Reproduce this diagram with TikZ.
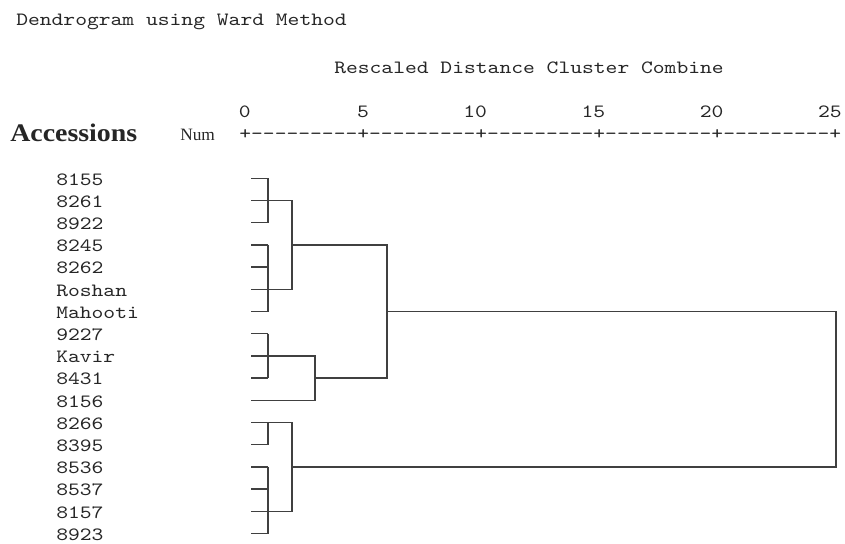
\documentclass[tikz,border=0pt]{standalone}
\usepackage{fontspec}
\setmainfont{Liberation Serif}
\setmonofont{lmmono10-regular.otf}[FakeStretch=1.2]

% y position (px) of the k-th accession row
\pgfmathdeclarefunction{row}{1}{\pgfmathparse{178.3+22.2*#1}}

\begin{document}
\begin{tikzpicture}[x=0.75pt, y=-0.75pt,
    mono/.style = {font=\ttfamily\fontsize{14.05}{17}\selectfont, inner sep=0pt, text=black!85},
    branch/.style = {draw=black!75, line width=1.1pt}]
  \useasboundingbox (0,0) rectangle (845,543);

  % headings
  \node[mono, anchor=base west] (title) at (16,25.5) {Dendrogram using Ward Method};
  \node[mono, anchor=base west] (scale) at (334,73.3) {Rescaled Distance Cluster Combine};
  \node[anchor=base west, inner sep=0pt, text=black!85,
        font=\bfseries\fontsize{19}{20}\selectfont] (acc) at (10,141) {\scalebox{1.1}[1]{Accessions}};
  \node[anchor=base west, inner sep=0pt, text=black!85,
        font=\fontsize{13}{14}\selectfont] (num) at (180,140) {Num};

  % distance axis, 0..25
  \node[mono, anchor=base west] (axis) at (239.1,139.5) {+---------+---------+---------+---------+---------+};
  \foreach \d in {0,5,...,25}
    \node[mono, anchor=base east] (t\d) at ({250.9+23.64*\d},117) {\d};

  % accessions and the start of their branches
  \foreach \name [count=\k from 0] in {8155,8261,8922,8245,8262,Roshan,Mahooti,9227,
      Kavir,8431,8156,8266,8395,8536,8537,8157,8923} {
    \node[mono, anchor=base west] (a\name) at (56,{row(\k)+6.8}) {\name};
    \coordinate (s\k) at (251,{row(\k)});
    \coordinate (d\k) at (268,{row(\k)});
  }

  % first merges
  \foreach \k in {0,1,2,3,4,5,6,7,8,9,11,12,13,14,15,16}
    \draw[branch] (s\k) -- (d\k);
  \foreach \a/\b in {0/2,3/6,7/9,11/12,13/16}
    \draw[branch] (d\a) -- (d\b);

  % higher merges
  \coordinate (m1) at (292,{row(3)});
  \coordinate (m2) at (315,{row(9)});
  \coordinate (m3) at (387,{row(6)});
  \coordinate (m4) at (292,{row(13)});
  \coordinate (m5) at (836,{row(9.5)});

  \draw[branch] (d1) -| (m1);
  \draw[branch] (d5) -| (m1);
  \draw[branch] (d8) -| (m2);
  \draw[branch] (s10) -| (m2);
  \draw[branch] (m1) -| (m3);
  \draw[branch] (m2) -| (m3);
  \draw[branch] (d11) -| (m4);
  \draw[branch] (d15) -| (m4);
  \draw[branch] (m3) -| (m5);
  \draw[branch] (m4) -| (m5);
\end{tikzpicture}
\end{document}
